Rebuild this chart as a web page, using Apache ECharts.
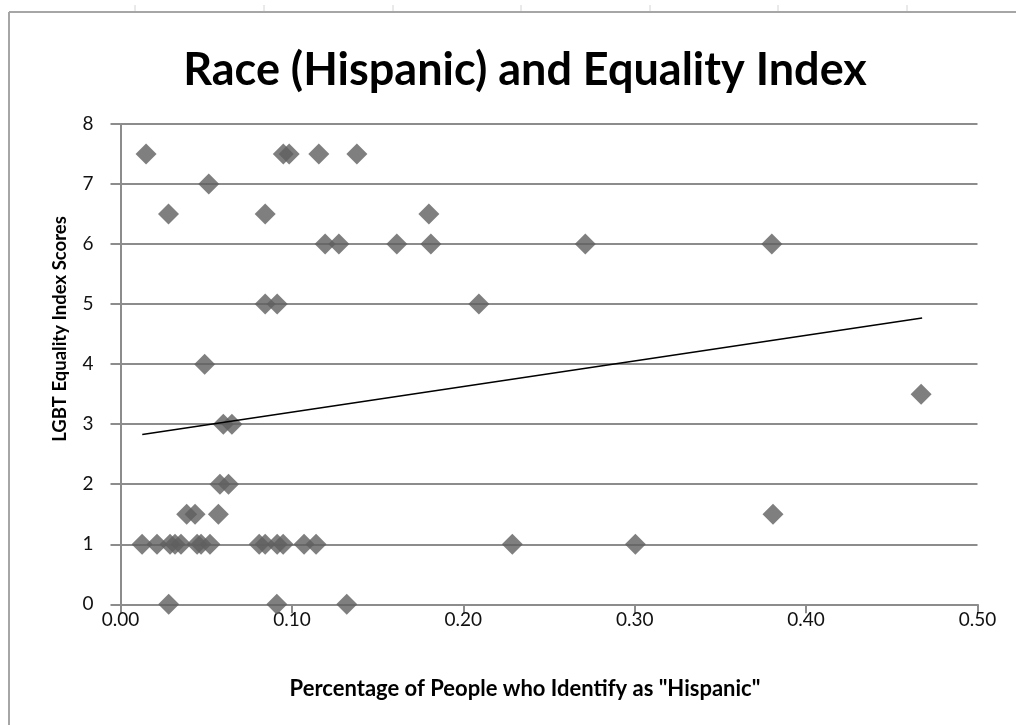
<!DOCTYPE html>
<html>
<head>
<meta charset="utf-8">
<script src="https://cdn.jsdelivr.net/npm/echarts@6/dist/echarts.min.js"></script>
<style>
  html, body { margin: 0; padding: 0; background: #fff; }
  #chart { width: 1016px; height: 725px; }
</style>
</head>
<body>
<div id="chart"></div>
<script>
// share of people identifying as Hispanic, per state
const hispanicShare = [
  0.0149, 0.0950, 0.0984, 0.1157, 0.1379,
  0.0515,
  0.0280, 0.0844, 0.1799,
  0.1194, 0.1274, 0.1612, 0.1811, 0.2712, 0.3800,
  0.0844, 0.0914, 0.2091,
  0.0491,
  0.4671,
  0.0600, 0.0650,
  0.0580, 0.0630,
  0.0386, 0.0435, 0.0571, 0.3807,
  0.0126, 0.0213, 0.0289, 0.0318, 0.0353, 0.0447, 0.0470, 0.0522,
  0.0809, 0.0844, 0.0914, 0.0949, 0.1071, 0.1141, 0.2286, 0.3004,
  0.0281, 0.0912, 0.1320
];
// LGBT equality index score, same order
const equalityScore = [
  7.5, 7.5, 7.5, 7.5, 7.5,
  7,
  6.5, 6.5, 6.5,
  6, 6, 6, 6, 6, 6,
  5, 5, 5,
  4,
  3.5,
  3, 3,
  2, 2,
  1.5, 1.5, 1.5, 1.5,
  1, 1, 1, 1, 1, 1, 1, 1,
  1, 1, 1, 1, 1, 1, 1, 1,
  0, 0, 0
];
// linear trend line as drawn in the original (fitted on the full sheet)
const trendX = [0.0127, 0.4677];
const trendY = [2.83, 4.77];

const xTicks = [0, 0.1, 0.2, 0.3, 0.4, 0.5];
const yTicks = [0, 1, 2, 3, 4, 5, 6, 7, 8];

const points = hispanicShare.map((x, i) => [x, equalityScore[i]]);
const trend = trendX.map((x, i) => [x, trendY[i]]);

const font = 'Lato, "Open Sans", sans-serif';
const myChart = echarts.init(document.getElementById('chart'));

const option = {
  animation: false,
  backgroundColor: '#fff',
  textStyle: { fontFamily: font },
  title: {
    text: 'Race (Hispanic) and Equality Index',
    left: 520,
    top: 43,
    textAlign: 'center',
    textStyle: { fontFamily: font, fontSize: 45, fontWeight: 'bold', color: '#000' }
  },
  grid: { left: 120.5, right: 38.5, top: 124, bottom: 120.7 },
  xAxis: {
    type: 'value',
    min: xTicks[0],
    max: xTicks[xTicks.length - 1],
    interval: 0.1,
    axisLine: { show: true, onZero: false, lineStyle: { color: '#8c8c8c', width: 2 } },
    axisTick: { show: true, length: 9, lineStyle: { color: '#8c8c8c', width: 2 } },
    axisLabel: {
      margin: 6,
      fontSize: 19,
      color: '#111',
      fontFamily: font,
      formatter: v => v.toFixed(2)
    },
    splitLine: { show: false }
  },
  yAxis: {
    type: 'value',
    min: yTicks[0],
    max: yTicks[yTicks.length - 1],
    interval: 1,
    axisLine: { show: true, onZero: false, lineStyle: { color: '#8c8c8c', width: 2 } },
    axisTick: { show: true, length: 10, lineStyle: { color: '#8c8c8c', width: 2 } },
    axisLabel: { margin: 27, fontSize: 19, color: '#111', fontFamily: font },
    splitLine: { show: true, lineStyle: { color: '#8c8c8c', width: 2 } }
  },
  graphic: [
    // chart area frame
    { type: 'line', shape: { x1: 9, y1: 12, x2: 1016, y2: 12 }, style: { stroke: '#a6a6a6', lineWidth: 2 } },
    { type: 'line', shape: { x1: 9, y1: 12, x2: 9, y2: 725 }, style: { stroke: '#a6a6a6', lineWidth: 2 } },
    // faint sheet column marks above the frame
    ...[135, 264, 393, 521, 650, 778, 907].map(x => ({
      type: 'line', shape: { x1: x, y1: 5, x2: x, y2: 11 }, style: { stroke: '#d4d4d4', lineWidth: 1 }
    })),
    {
      type: 'text',
      x: 60, y: 329,
      rotation: Math.PI / 2,
      style: {
        text: 'LGBT Equality Index Scores',
        fontFamily: font, fontSize: 18.5, fontWeight: 'bold', fill: '#000',
        textAlign: 'center', textVerticalAlign: 'middle'
      }
    },
    {
      type: 'text',
      x: 525, y: 689,
      style: {
        text: 'Percentage of People who Identify as "Hispanic"',
        fontFamily: font, fontSize: 22, fontWeight: 'bold', fill: '#000',
        textAlign: 'center', textVerticalAlign: 'middle'
      }
    }
  ],
  series: [
    {
      name: 'States',
      type: 'scatter',
      data: points,
      symbol: 'diamond',
      symbolSize: 21,
      itemStyle: { color: '#5f5f5f' },
      z: 3
    },
    {
      name: 'Linear trend',
      type: 'line',
      data: trend,
      showSymbol: false,
      symbol: 'none',
      lineStyle: { color: '#000', width: 1.5 },
      z: 4
    }
  ]
};

myChart.setOption(option, true);
</script>
</body>
</html>
